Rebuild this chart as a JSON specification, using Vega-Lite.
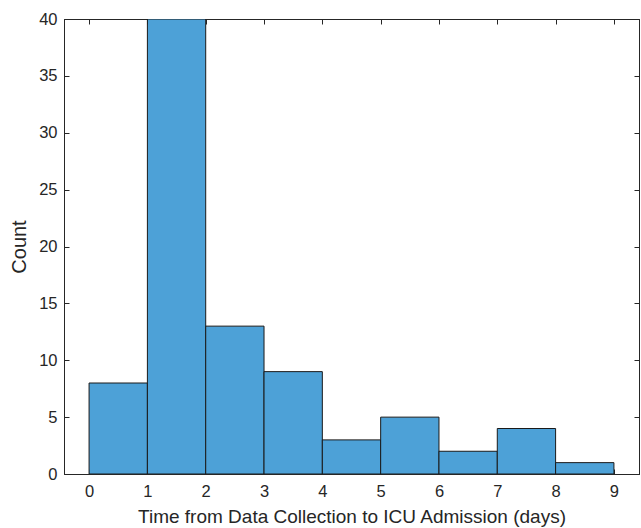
{
  "$schema": "https://vega.github.io/schema/vega-lite/v6.json",
  "autosize": "none",
  "padding": {"left": 64, "top": 19, "right": 2, "bottom": 54},
  "width": 575,
  "height": 455,
  "background": "white",
  "config": {
    "view": {"stroke": "#262626", "strokeWidth": 1},
    "axis": {
      "labelFont": "Liberation Sans",
      "titleFont": "Liberation Sans",
      "labelFontSize": 16.5,
      "titleFontSize": 19,
      "titleFontWeight": "normal",
      "labelColor": "#262626",
      "titleColor": "#262626",
      "domainColor": "#262626",
      "tickColor": "#262626",
      "tickSize": -5,
      "grid": false
    }
  },
  "data": {
    "values": [
      {"bin_start": 0, "bin_end": 1, "count": 8},
      {"bin_start": 1, "bin_end": 2, "count": 40},
      {"bin_start": 2, "bin_end": 3, "count": 13},
      {"bin_start": 3, "bin_end": 4, "count": 9},
      {"bin_start": 4, "bin_end": 5, "count": 3},
      {"bin_start": 5, "bin_end": 6, "count": 5},
      {"bin_start": 6, "bin_end": 7, "count": 2},
      {"bin_start": 7, "bin_end": 8, "count": 4},
      {"bin_start": 8, "bin_end": 9, "count": 1}
    ]
  },
  "layer": [
    {
      "mark": {"type": "rect", "fill": "#4da1d7", "stroke": "#1a1a1a", "strokeWidth": 1, "clip": true},
      "encoding": {
        "x": {
          "field": "bin_start", "type": "quantitative",
          "scale": {"domain": [-0.43, 9.43], "nice": false, "zero": false},
          "axis": {"values": [0,1,2,3,4,5,6,7,8,9], "title": "Time from Data Collection to ICU Admission (days)", "labelPadding": 14, "titlePadding": 8}
        },
        "x2": {"field": "bin_end"},
        "y": {
          "field": "count", "type": "quantitative",
          "scale": {"domain": [0, 40], "nice": false},
          "axis": {"values": [0,5,10,15,20,25,30,35,40], "title": "Count", "titleFontSize": 20, "labelPadding": 12, "titlePadding": 9}
        },
        "y2": {"datum": 0}
      }
    },
    {
      "mark": {"type": "rect", "opacity": 0},
      "encoding": {
        "x": {
          "field": "bin_start", "type": "quantitative",
          "axis": {"orient": "top", "values": [0,1,2,3,4,5,6,7,8,9], "labels": false, "title": null}
        },
        "x2": {"field": "bin_end"},
        "y": {
          "field": "count", "type": "quantitative",
          "axis": {"orient": "right", "values": [0,5,10,15,20,25,30,35,40], "labels": false, "title": null}
        },
        "y2": {"datum": 0}
      }
    }
  ],
  "resolve": {"axis": {"x": "independent", "y": "independent"}}
}
